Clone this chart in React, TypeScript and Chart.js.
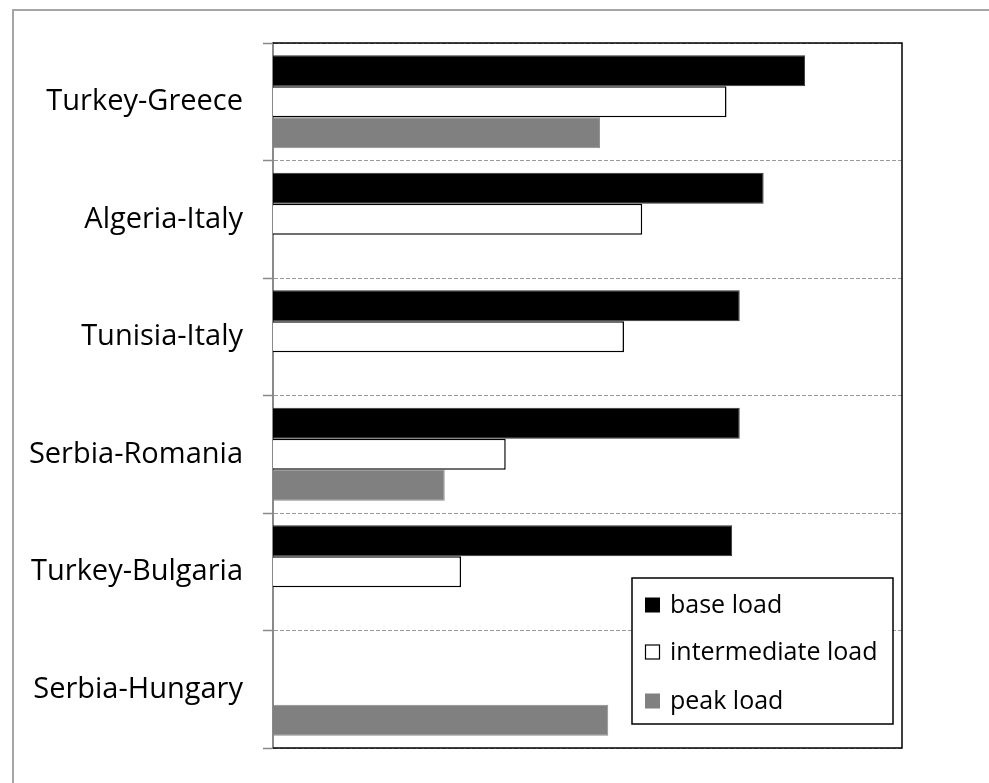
import React, { useEffect, useRef } from "react";
import { Chart, registerables } from "chart.js";

Chart.register(...registerables);

const categories = [
  "Turkey-Greece",
  "Algeria-Italy",
  "Tunisia-Italy",
  "Serbia-Romania",
  "Turkey-Bulgaria",
  "Serbia-Hungary",
];
const baseLoad = [84.6, 78.0, 74.2, 74.2, 73.0, null];
const intermediateLoad = [72.1, 58.7, 55.8, 37.0, 29.9, null];
const peakLoad = [52.0, null, null, 27.3, null, 53.3];
const seriesNames = ["base load", "intermediate load", "peak load"];

const FONT = "'Open Sans', sans-serif";

const framePlugin = {
  id: "frameAndLegend",
  afterDraw(chart: any) {
    const { ctx, chartArea } = chart;
    const { left, top, right, bottom } = chartArea;
    ctx.save();
    // black frame on top, right, bottom
    ctx.strokeStyle = "#000";
    ctx.lineWidth = 1.5;
    ctx.beginPath();
    ctx.moveTo(left, top);
    ctx.lineTo(right, top);
    ctx.lineTo(right, bottom);
    ctx.lineTo(left, bottom);
    ctx.stroke();

    // legend box
    const bw = 261;
    const bh = 146;
    const bx = right - 9 - bw;
    const by = bottom - 24 - bh;
    ctx.fillStyle = "#fff";
    ctx.fillRect(bx, by, bw, bh);
    ctx.strokeStyle = "#000";
    ctx.lineWidth = 1.5;
    ctx.strokeRect(bx, by, bw, bh);

    const rows = [by + 27, by + 74, by + 123];
    ctx.font = `25px ${FONT}`;
    ctx.textBaseline = "middle";
    ctx.textAlign = "left";
    chart.data.datasets.forEach((ds: any, i: number) => {
      const cy = rows[i];
      const mx = bx + 13;
      const size = 15;
      ctx.fillStyle = ds.backgroundColor;
      ctx.fillRect(mx, cy - size / 2, size, size);
      if (ds.backgroundColor === "#ffffff") {
        ctx.strokeStyle = "#000";
        ctx.lineWidth = 1.2;
        ctx.strokeRect(mx + 0.5, cy - size / 2 + 0.5, size - 1, size - 1);
      }
      ctx.fillStyle = "#000";
      ctx.fillText(ds.label, bx + 38, cy + 1);
    });
    ctx.restore();
  },
};

export default function App() {
  const ref = useRef<HTMLCanvasElement>(null);
  useEffect(() => {
    if (!ref.current) return;
    const chart = new Chart(ref.current, {
      type: "bar",
      data: {
        labels: categories,
        datasets: [
          {
            label: seriesNames[0],
            data: baseLoad,
            backgroundColor: "#000000",
            borderColor: "#333333",
            borderWidth: 1,
          },
          {
            label: seriesNames[1],
            data: intermediateLoad,
            backgroundColor: "#ffffff",
            borderColor: "#000000",
            borderWidth: 1.5,
          },
          {
            label: seriesNames[2],
            data: peakLoad,
            backgroundColor: "#808080",
            borderColor: "#8c8c8c",
            borderWidth: 1,
          },
        ] as any,
      },
      options: {
        indexAxis: "y",
        responsive: false,
        animation: false,
        maintainAspectRatio: false,
        datasets: {
          bar: { categoryPercentage: 0.79, barPercentage: 1.0 },
        },
        layout: { padding: { left: 0, top: 35, right: 87, bottom: 35 } },
        plugins: {
          legend: { display: false },
          tooltip: { enabled: false },
          title: { display: false },
        },
        scales: {
          x: {
            display: false,
            min: 0,
            max: 100,
          },
          y: {
            afterFit(scale: any) {
              scale.width = 265;
              scale.paddingTop = 0;
              scale.paddingBottom = 0;
            },
            grid: {
              display: true,
              offset: true,
              color: "#9a9a9a",
              lineWidth: 1,
              drawTicks: true,
              tickLength: 10,
              tickColor: "#8a8a8a",
              tickWidth: 1.5,
              tickBorderDash: [],
            },
            border: {
              display: true,
              color: "#8a8a8a",
              width: 2,
              dash: [4, 2],
            },
            ticks: {
              color: "#000",
              padding: 20,
              font: { family: FONT, size: 29 },
            },
          },
        },
      } as any,
      plugins: [framePlugin],
    });
    return () => chart.destroy();
  }, []);

  return (
    <div
      style={{
        position: "fixed",
        left: 0,
        top: 0,
        width: 989,
        height: 783,
        overflow: "hidden",
        background: "#fff",
      }}
    >
      <div
        style={{
          position: "absolute",
          left: 12,
          top: 9,
          width: 2000,
          height: 2000,
          borderLeft: "2px solid #a6a6a6",
          borderTop: "2px solid #a6a6a6",
          boxSizing: "border-box",
        }}
      />
      <canvas
        ref={ref}
        width={981}
        height={775}
        style={{ position: "absolute", left: 8, top: 8, width: 981, height: 775 }}
      />
    </div>
  );
}
